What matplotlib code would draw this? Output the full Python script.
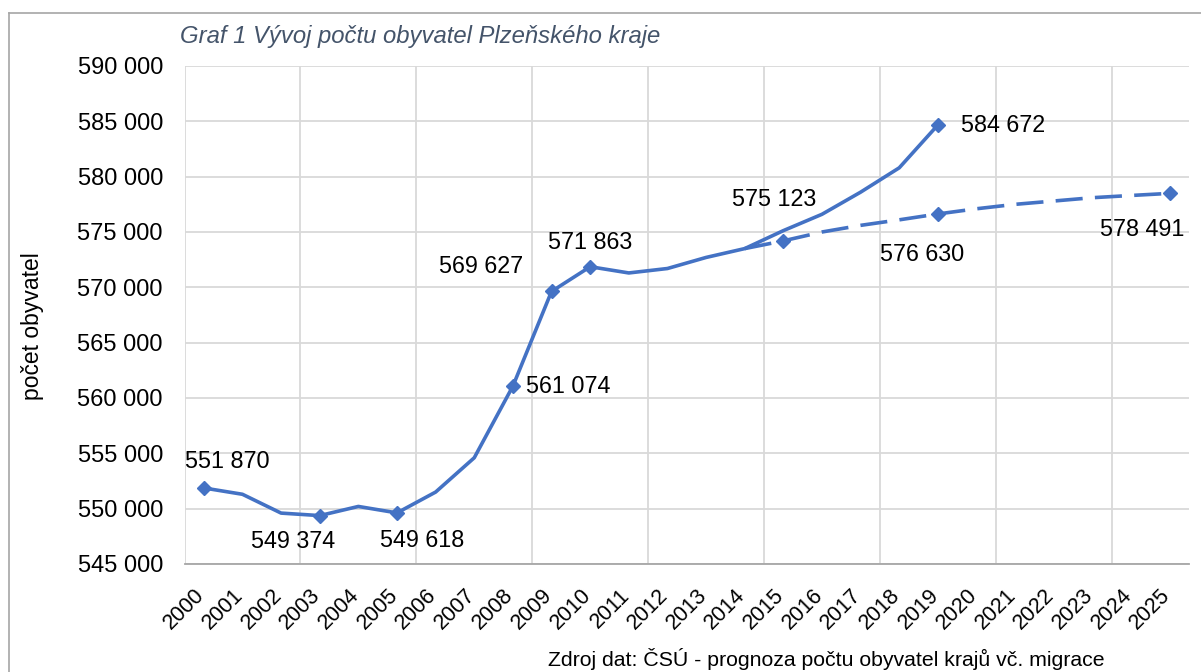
import numpy as np
import matplotlib
matplotlib.use("Agg")
import matplotlib.pyplot as plt
from matplotlib.ticker import FuncFormatter, FixedLocator
from matplotlib.lines import Line2D

plt.rcParams['font.family'] = ['Liberation Sans', 'DejaVu Sans']

# data
years = [str(y) for y in range(2000, 2026)]

actual_years = list(range(2000, 2020))
actual = [551870, 551300, 549600, 549374, 550200, 549618, 551500, 554600,
          561074, 569627, 571863, 571300, 571700, 572700, 573500, 575123,
          576600, 578600, 580800, 584672]

forecast_years = list(range(2014, 2026))
forecast = [573500, 574200, 575000, 575600, 576100, 576630, 577100, 577500,
            577800, 578100, 578300, 578491]

# which years carry a marker / label
actual_marked = [2000, 2003, 2005, 2008, 2009, 2010, 2019]
forecast_marked = [2015, 2019, 2025]
actual_labels = {2000: (23, 26), 2003: (-27, -26), 2005: (25, -28),
                 2008: (55, 0), 2009: (-70, 25), 2010: (0, 24),
                 2015: (-9, 31), 2019: (65, -1)}
forecast_labels = {2019: (-16, -41), 2025: (-27, -36)}

title = "Graf 1 Vývoj počtu obyvatel Plzeňského kraje"
ylabel = "počet obyvatel"
source = "Zdroj dat: ČSÚ - prognoza počtu obyvatel krajů vč. migrace"

blue = "#4472C4"
grid = "#D9D9D9"


def fmt(v):
    return f"{int(round(v)):,}".replace(",", " ")


fig = plt.figure(figsize=(12.01, 6.72), dpi=100)
ax = fig.add_axes([184.5 / 1201, 1 - 564 / 672, (1189 - 184.5) / 1201, (564 - 66) / 672])

xa = [y - 2000 for y in actual_years]
xf = [y - 2000 for y in forecast_years]

ax.plot(xa, actual, color=blue, lw=2.6, solid_joinstyle='round', zorder=3)
ax.plot(xf, forecast, color=blue, lw=2.6, dashes=(7.5, 3.4), zorder=3)

mi = [actual_years.index(y) for y in actual_marked]
ax.plot([xa[i] for i in mi], [actual[i] for i in mi], ls='none', marker='D',
        ms=7.5, color=blue, zorder=4)
fi = [forecast_years.index(y) for y in forecast_marked]
ax.plot([xf[i] for i in fi], [forecast[i] for i in fi], ls='none', marker='D',
        ms=7.5, color=blue, zorder=4)

for y, (dx, dy) in actual_labels.items():
    i = actual_years.index(y)
    ax.annotate(fmt(actual[i]), (xa[i], actual[i]), xytext=(dx, dy),
                textcoords='offset pixels', ha='center', va='center',
                fontsize=16.8, color='black', zorder=5)
for y, (dx, dy) in forecast_labels.items():
    i = forecast_years.index(y)
    ax.annotate(fmt(forecast[i]), (xf[i], forecast[i]), xytext=(dx, dy),
                textcoords='offset pixels', ha='center', va='center',
                fontsize=16.8, color='black', zorder=5)

ax.set_xlim(-0.5, len(years) - 0.5)
ax.set_ylim(545000, 590000)
ax.set_yticks(np.arange(545000, 590001, 5000))
ax.yaxis.set_major_formatter(FuncFormatter(lambda v, p: fmt(v)))
ax.set_xticks(range(len(years)))
ax.set_xticklabels(years, rotation=45, ha='right', va='top')
ax.xaxis.set_minor_locator(FixedLocator(np.arange(-0.5, len(years) - 1, 3)))

ax.tick_params(axis='y', length=0, pad=15.5, labelsize=17, colors='black')
ax.tick_params(axis='x', which='major', length=0, pad=15, labelsize=15.5, colors='black')
ax.tick_params(axis='x', which='minor', length=0)
ax.grid(axis='y', which='major', color=grid, lw=1.3)
ax.grid(axis='x', which='minor', color=grid, lw=1.3)
ax.grid(axis='x', which='major', visible=False)
ax.set_axisbelow(True)

# nudge rotated year labels a little to the right, like the original
import matplotlib.transforms as mtransforms
shift = mtransforms.ScaledTranslation(5 / 100, 0, fig.dpi_scale_trans)
for lab in ax.get_xticklabels():
    lab.set_transform(lab.get_transform() + shift)

for s in ['top', 'right', 'left']:
    ax.spines[s].set_visible(False)
ax.spines['bottom'].set_color('#A6A6A6')
ax.spines['bottom'].set_linewidth(1.3)

fig.text(33 / 1201, 1 - 326 / 672, ylabel, rotation=90, ha='center', va='center',
         fontsize=16.5, color='black')
fig.text(180 / 1201, 1 - 37 / 672, title, ha='left', va='center', fontsize=17.2,
         style='italic', color='#44546A')
fig.text(548 / 1201, 1 - 659 / 672, source, ha='left', va='center', fontsize=15.3,
         color='black')

# chart border (cut off at right and bottom)
fig.add_artist(Line2D([8.5 / 1201, 1.0], [1 - 12.5 / 672] * 2, transform=fig.transFigure,
                      color='#A6A6A6', lw=1.2))
fig.add_artist(Line2D([8.5 / 1201] * 2, [0.0, 1 - 12.5 / 672], transform=fig.transFigure,
                      color='#A6A6A6', lw=1.2))

fig.savefig("out.png", dpi=100)
